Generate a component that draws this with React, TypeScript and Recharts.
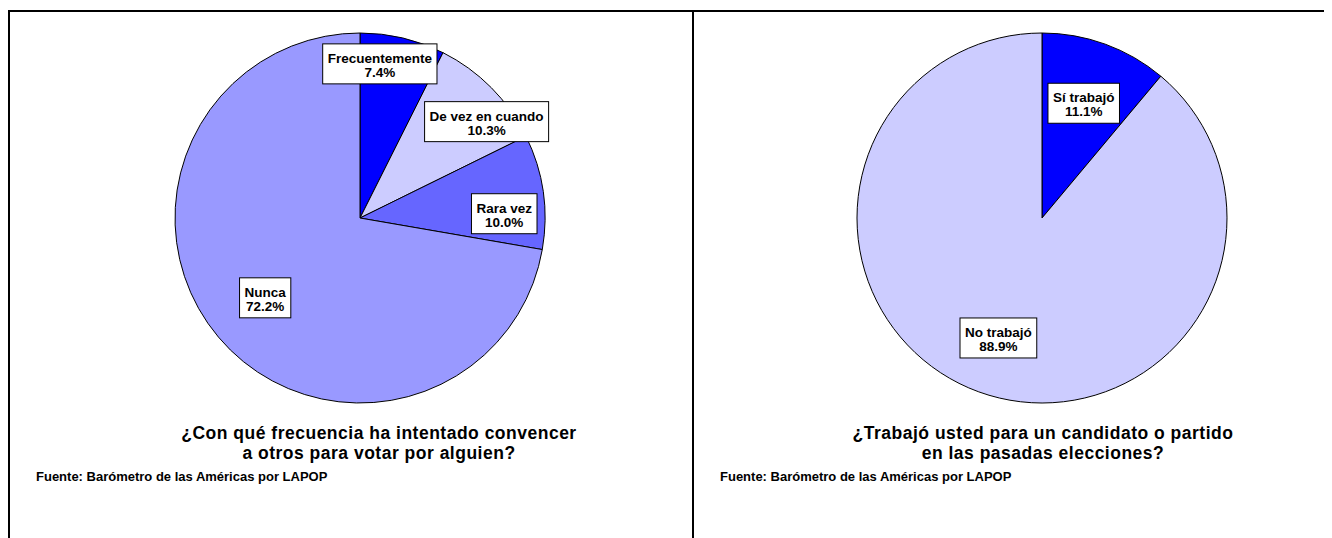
import { PieChart, Pie, Cell } from "recharts";

const convencerNames = ["Frecuentemente", "De vez en cuando", "Rara vez", "Nunca"];
const convencerValues = [7.4, 10.3, 10.0, 72.2];
const convencerColors = ["#0000FF", "#CCCCFF", "#6666FF", "#9999FF"];

const trabajoNames = ["Sí trabajó", "No trabajó"];
const trabajoValues = [11.1, 88.9];
const trabajoColors = ["#0000FF", "#CCCCFF"];

// label box placement: fraction of radius, and a nudge of the angle (deg, clockwise)
const convencerLabelRadius = [0.84, 0.86, 0.78, 0.67];
const convencerLabelShift = [-6, 7.5, 6.5, 0];
const trabajoLabelRadius = [0.66, 0.69];
const trabajoLabelShift = [0, 0];

const FONT = "'Liberation Sans', Arial, sans-serif";
const LABEL_SIZE = 13.5;
const RADIAN = Math.PI / 180;

let ctx: CanvasRenderingContext2D | null = null;
function textWidth(s: string) {
  if (!ctx) ctx = document.createElement("canvas").getContext("2d");
  if (!ctx) return s.length * 7.5;
  ctx.font = `bold ${LABEL_SIZE}px ${FONT}`;
  return ctx.measureText(s).width;
}

const makeLabel = (radii: number[], shifts: number[]) => (props: any) => {
  const { cx, cy, midAngle, outerRadius, index, name, value } = props;
  const r = outerRadius * radii[index];
  const a = midAngle - shifts[index];
  const x = cx + r * Math.cos(-a * RADIAN);
  const y = cy + r * Math.sin(-a * RADIAN);
  const pct = `${Number(value).toFixed(1)}%`;
  const w = Math.max(textWidth(name), textWidth(pct)) + 10;
  const h = 40;
  return (
    <g key={`lbl-${index}`}>
      <rect x={x - w / 2} y={y - h / 2} width={w} height={h} fill="#fff" stroke="#000" strokeWidth={1} />
      <text x={x} y={y - 1} textAnchor="middle" fontFamily={FONT} fontWeight="bold" fontSize={LABEL_SIZE} fill="#000">
        {name}
      </text>
      <text x={x} y={y + 13} textAnchor="middle" fontFamily={FONT} fontWeight="bold" fontSize={LABEL_SIZE} fill="#000">
        {pct}
      </text>
    </g>
  );
};

const toRows = (names: string[], values: number[]) =>
  names.map((n, i) => ({ name: n, value: values[i] }));

const titleStyle: React.CSSProperties = {
  position: "absolute",
  top: 415,
  width: 600,
  textAlign: "center",
  fontFamily: FONT,
  fontWeight: "bold",
  fontSize: 17.5,
  lineHeight: "20px",
  letterSpacing: "0.5px",
  color: "#000",
};

const sourceStyle: React.CSSProperties = {
  position: "absolute",
  top: 461,
  fontFamily: FONT,
  fontWeight: "bold",
  fontSize: 13,
  lineHeight: "15px",
  color: "#000",
  whiteSpace: "nowrap",
};

const PiePanel = (props: {
  left: number;
  width: number;
  names: string[];
  values: number[];
  colors: string[];
  radii: number[];
  shifts: number[];
}) => (
  <div style={{ position: "absolute", left: props.left, top: 0 }}>
    <PieChart width={props.width} height={420} margin={{ top: 0, right: 0, bottom: 0, left: 0 }}>
      <Pie
        data={toRows(props.names, props.values)}
        dataKey="value"
        nameKey="name"
        cx={352}
        cy={210}
        outerRadius={185}
        startAngle={90}
        endAngle={-270}
        stroke="#000"
        strokeWidth={1}
        label={makeLabel(props.radii, props.shifts)}
        labelLine={false}
        isAnimationActive={false}
      >
        {props.names.map((n, i) => (
          <Cell key={n} fill={props.colors[i]} />
        ))}
      </Pie>
    </PieChart>
  </div>
);

export default function App() {
  return (
    <div style={{ position: "relative", width: 1324, height: 530, overflow: "hidden", background: "#fff" }}>
      <div style={{ position: "absolute", left: 0, top: 2, width: 1324, height: 2, background: "#000" }} />
      <div style={{ position: "absolute", left: 0, top: 2, width: 2, height: 528, background: "#000" }} />
      <div style={{ position: "absolute", left: 684, top: 2, width: 2, height: 528, background: "#000" }} />

      <PiePanel
        left={0}
        width={684}
        names={convencerNames}
        values={convencerValues}
        colors={convencerColors}
        radii={convencerLabelRadius}
        shifts={convencerLabelShift}
      />
      <PiePanel
        left={682}
        width={640}
        names={trabajoNames}
        values={trabajoValues}
        colors={trabajoColors}
        radii={trabajoLabelRadius}
        shifts={trabajoLabelShift}
      />

      <div style={{ ...titleStyle, left: 71 }}>
        ¿Con qué frecuencia ha intentado convencer
        <br />a otros para votar por alguien?
      </div>
      <div style={{ ...titleStyle, left: 735 }}>
        ¿Trabajó usted para un candidato o partido
        <br />
        en las pasadas elecciones?
      </div>
      <div style={{ ...sourceStyle, left: 28 }}>Fuente: Barómetro de las Américas por LAPOP</div>
      <div style={{ ...sourceStyle, left: 712 }}>Fuente: Barómetro de las Américas por LAPOP</div>
    </div>
  );
}
